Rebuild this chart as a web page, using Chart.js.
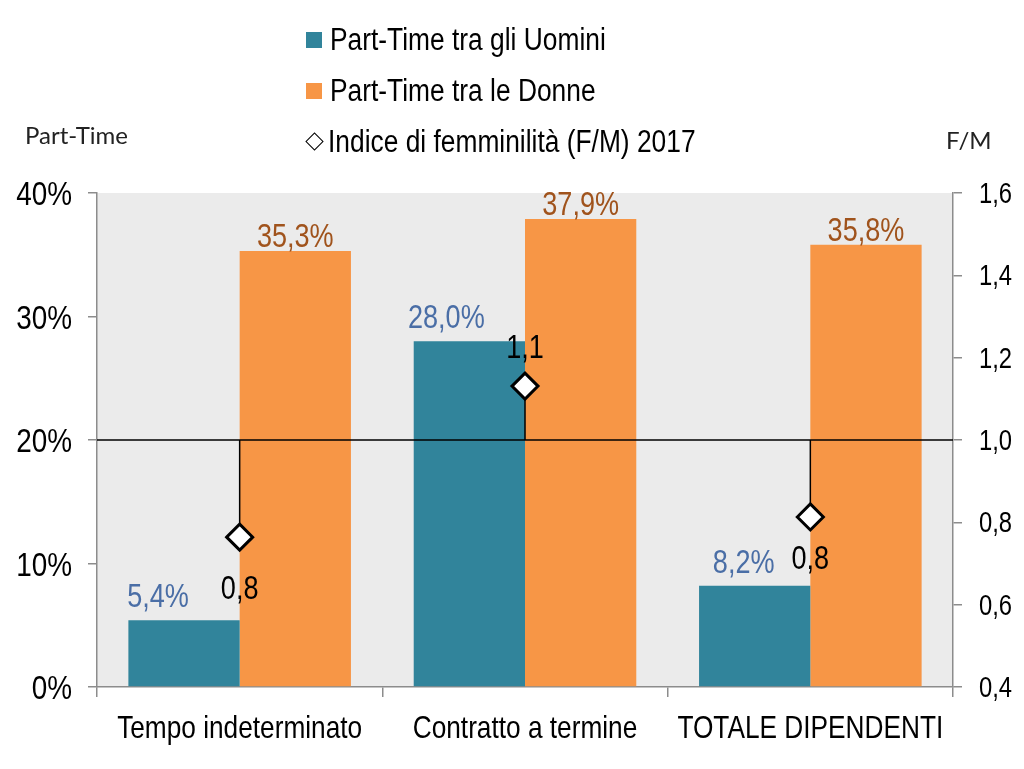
<!DOCTYPE html>
<html>
<head>
<meta charset="utf-8">
<script src="https://cdn.jsdelivr.net/npm/chart.js@4.4.1/dist/chart.umd.min.js"></script>
<style>
  html, body { margin: 0; padding: 0; background: #fff; }
  #wrap { position: relative; width: 1024px; height: 769px; }
  #wrap canvas { position: absolute; left: 0; top: 0; }
  #legend { position: absolute; left: 306px; top: 14px; font-family: "Liberation Sans", Arial, sans-serif; }
  .lg-item { height: 51px; display: flex; align-items: center; font-size: 31px; color: #000; white-space: nowrap; }
  .lg-box { width: 16px; height: 16px; margin-right: 8px; flex: none; }
  .lg-diamond { width: 11px; height: 11px; border: 1.5px solid #000; transform: rotate(45deg); margin: 0 7px 0 2px; flex: none; }
  .lg-text { display: inline-block; transform: scaleX(0.85); transform-origin: left center; }
  .axis-title { position: absolute; font-family: Lato, "Open Sans", sans-serif; font-size: 24px; color: #222; }
</style>
</head>
<body>
<div id="wrap">
  <canvas id="chart" width="1024" height="769"></canvas>
  <div id="legend"></div>
  <div class="axis-title" style="left:25px; top:120px;">Part-Time</div>
  <div class="axis-title" style="left:946px; top:125px;">F/M</div>
</div>
<script>
// data
const categories = ["Tempo indeterminato", "Contratto a termine", "TOTALE DIPENDENTI"];
const partTimeMen = [5.4, 28.0, 8.2];
const partTimeWomen = [35.3, 37.9, 35.8];
const femIndex = [0.764, 1.131, 0.813];
const femIndexLabels = ["0,8", "1,1", "0,8"];
const seriesNames = ["Part-Time tra gli Uomini", "Part-Time tra le Donne", "Indice di femminilità (F/M) 2017"];

// label placement tweaks (pixels), as in the original layout
const menLabelShift = [-26, -23, -11];
const indexLabelBaseline = [62, -28, 52];

const FONT = '"Liberation Sans", Arial, sans-serif';
const SQUEEZE = 0.82; // Arial -> Arial Narrow look
const TEAL = "#31849b";
const ORANGE = "#f79646";
const AXIS_GRAY = "#8c8c8c";

const fmt1 = (v) => v.toFixed(1).replace(".", ",");

// condensed text: no narrow font is installed, so squeeze Liberation Sans
function narrowText(ctx, text, x, y, size, color, align) {
  ctx.save();
  ctx.translate(x, y);
  ctx.scale(SQUEEZE, 1);
  ctx.font = size + "px " + FONT;
  ctx.fillStyle = color;
  ctx.textAlign = align;
  ctx.textBaseline = "alphabetic";
  ctx.fillText(text, 0, 0);
  ctx.restore();
}

const backgroundPlugin = {
  id: "plotBackground",
  beforeDraw(chart) {
    const { ctx, chartArea } = chart;
    ctx.save();
    ctx.fillStyle = "#ebebeb";
    ctx.fillRect(chartArea.left, chartArea.top, chartArea.right - chartArea.left, chartArea.bottom - chartArea.top);
    ctx.restore();
  },
};

// reference line at F/M = 1 and drop lines, under the diamonds
const refLinePlugin = {
  id: "refLines",
  beforeDatasetDraw(chart, args) {
    if (args.index !== 2) return;
    const { ctx, chartArea } = chart;
    const y1 = chart.scales.y1;
    const base = y1.getPixelForValue(1);
    ctx.save();
    ctx.strokeStyle = "#000";
    ctx.lineWidth = 1.5;
    ctx.beginPath();
    ctx.moveTo(chartArea.left, base);
    ctx.lineTo(chartArea.right, base);
    chart.getDatasetMeta(2).data.forEach((pt, i) => {
      ctx.moveTo(pt.x, base);
      ctx.lineTo(pt.x, y1.getPixelForValue(femIndex[i]));
    });
    ctx.stroke();
    ctx.restore();
  },
};

const valueLabelsPlugin = {
  id: "valueLabels",
  afterDatasetsDraw(chart) {
    const { ctx } = chart;
    chart.getDatasetMeta(0).data.forEach((bar, i) => {
      narrowText(ctx, fmt1(partTimeMen[i]) + "%", bar.x + menLabelShift[i], bar.y - 13, 33, "#4a6ea6", "center");
    });
    chart.getDatasetMeta(1).data.forEach((bar, i) => {
      narrowText(ctx, fmt1(partTimeWomen[i]) + "%", bar.x, bar.y - 4, 33, "#a0531c", "center");
    });
    chart.getDatasetMeta(2).data.forEach((pt, i) => {
      narrowText(ctx, femIndexLabels[i], pt.x, pt.y + indexLabelBaseline[i], 33, "#000", "center");
    });
  },
};

// tick labels drawn from the scales' own ticks
const tickLabelsPlugin = {
  id: "tickLabels",
  afterDraw(chart) {
    const { ctx, scales } = chart;
    const { x, y, y1 } = scales;
    x.ticks.forEach((t, i) => {
      narrowText(ctx, categories[t.value], x.getPixelForTick(i), 738, 32, "#000", "center");
    });
    y.ticks.forEach((t, i) => {
      narrowText(ctx, t.value + "%", 72, y.getPixelForTick(i) + 12, 34, "#000", "right");
    });
    y1.ticks.forEach((t, i) => {
      narrowText(ctx, fmt1(t.value), 979, y1.getPixelForTick(i) + 10, 29, "#000", "left");
    });
  },
};

const chart = new Chart(document.getElementById("chart"), {
  type: "bar",
  data: {
    labels: categories,
    datasets: [
      {
        label: seriesNames[0],
        data: partTimeMen,
        backgroundColor: TEAL,
        yAxisID: "y",
        order: 1,
        categoryPercentage: 0.78,
        barPercentage: 1.0,
      },
      {
        label: seriesNames[1],
        data: partTimeWomen,
        backgroundColor: ORANGE,
        yAxisID: "y",
        order: 1,
        categoryPercentage: 0.78,
        barPercentage: 1.0,
      },
      {
        type: "line",
        label: seriesNames[2],
        data: femIndex,
        yAxisID: "y1",
        order: 0,
        showLine: false,
        pointStyle: "rectRot",
        pointRadius: 13,
        pointBackgroundColor: "#fff",
        pointBorderColor: "#000",
        pointBorderWidth: 3,
      },
    ],
  },
  options: {
    responsive: false,
    animation: false,
    layout: { padding: { top: 193, left: 0, right: 0, bottom: 0 } },
    plugins: {
      legend: { display: false },
      tooltip: { enabled: false },
    },
    scales: {
      x: {
        afterFit: (scale) => { scale.height = 82; },
        grid: { offset: true, drawOnChartArea: false, tickLength: 10, color: AXIS_GRAY, lineWidth: 1.5 },
        border: { color: AXIS_GRAY, width: 1.5 },
        ticks: { display: false },
      },
      y: {
        position: "left",
        min: 0,
        max: 40,
        afterFit: (scale) => { scale.width = 97; },
        ticks: { display: false, stepSize: 10 },
        grid: { drawOnChartArea: false, tickLength: 9, color: AXIS_GRAY, lineWidth: 1.5 },
        border: { color: AXIS_GRAY, width: 1.5 },
      },
      y1: {
        position: "right",
        min: 0.4,
        max: 1.6,
        afterFit: (scale) => { scale.width = 71; },
        ticks: { display: false, stepSize: 0.2 },
        grid: { drawOnChartArea: false, tickLength: 9, color: AXIS_GRAY, lineWidth: 1.5 },
        border: { color: AXIS_GRAY, width: 1.5 },
      },
    },
  },
  plugins: [backgroundPlugin, refLinePlugin, valueLabelsPlugin, tickLabelsPlugin],
});

// legend, stacked vertically as in the original
const legendDiv = document.getElementById("legend");
chart.data.datasets.forEach((ds) => {
  const item = document.createElement("div");
  item.className = "lg-item";
  const mark = document.createElement("span");
  if (ds.type === "line") {
    mark.className = "lg-diamond";
  } else {
    mark.className = "lg-box";
    mark.style.background = ds.backgroundColor;
  }
  const text = document.createElement("span");
  text.className = "lg-text";
  text.textContent = ds.label;
  item.appendChild(mark);
  item.appendChild(text);
  legendDiv.appendChild(item);
});
</script>
</body>
</html>
